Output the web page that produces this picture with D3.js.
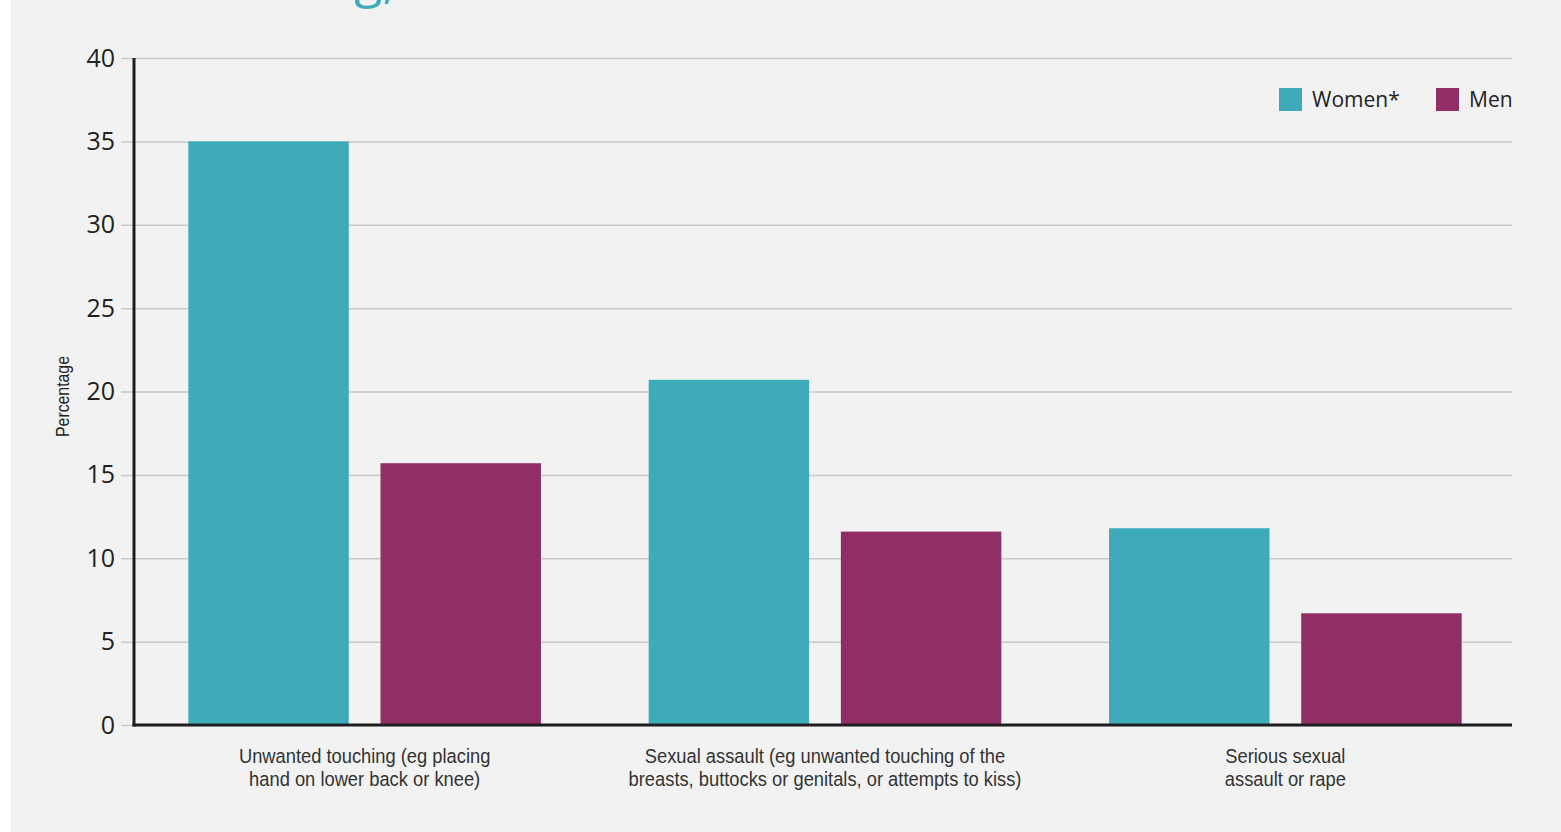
<!DOCTYPE html>
<html>
<head>
<meta charset="utf-8">
<script src="https://cdn.jsdelivr.net/npm/d3@7"></script>
<style>
  body { margin: 0; background: #fff; }
  svg { display: block; }
</style>
</head>
<body>
<div id="chart"></div>
<script>
// chart data
var categories = [
  ["Unwanted touching (eg placing", "hand on lower back or knee)"],
  ["Sexual assault (eg unwanted touching of the", "breasts, buttocks or genitals, or attempts to kiss)"],
  ["Serious sexual", "assault or rape"]
];
var seriesNames = ["Women*", "Men"];
var women = [35.0, 20.7, 11.8];
var men = [15.7, 11.6, 6.7];
var yTicks = [0, 5, 10, 15, 20, 25, 30, 35, 40];
var colors = ["#3eabbb", "#902e65"];

var W = 1561, H = 832;
var margin = { left: 134, right: 49, top: 58, bottom: 107 };

var svg = d3.select("#chart").append("svg")
  .attr("width", W)
  .attr("height", H);

// grey panel
svg.append("rect")
  .attr("x", 11).attr("y", 0)
  .attr("width", W - 11).attr("height", H)
  .attr("fill", "#f2f2f2");

// heading, only its descenders peek in at the top
svg.append("text")
  .attr("x", 396).attr("y", -3)
  .attr("text-anchor", "end")
  .attr("font-family", "'Open Sans', sans-serif")
  .attr("font-size", 52)
  .attr("fill", "#3eabbb")
  .text("Sexual harassment at work and in training,");

var y = d3.scaleLinear().domain([0, 40]).range([H - margin.bottom, margin.top]);
var x0 = d3.scaleBand()
  .domain(d3.range(categories.length))
  .range([margin.left, W - margin.right + 4])
  .paddingInner(0.234)
  .paddingOuter(0.118);
var x1 = d3.scaleBand()
  .domain(seriesNames)
  .range([0, x0.bandwidth()])
  .paddingInner(0.165);

// grid lines + ticks
var yAxis = d3.axisLeft(y)
  .tickValues(yTicks)
  .tickSize(-(W - margin.right - margin.left))
  .tickPadding(19)
  .tickFormat(d3.format("d"));

var gy = svg.append("g")
  .attr("transform", "translate(" + margin.left + ",0)")
  .call(yAxis);
gy.select(".domain").remove();
gy.selectAll(".tick line")
  .attr("x1", -13)
  .attr("stroke", "#c9c9c9")
  .attr("stroke-width", 1.5);
gy.selectAll(".tick text")
  .attr("font-family", "'Open Sans', sans-serif")
  .attr("font-size", 25)
  .attr("fill", "#222");

// bars
var rows = categories.map(function(c, i) {
  return { i: i, values: [
    { key: seriesNames[0], v: women[i] },
    { key: seriesNames[1], v: men[i] }
  ] };
});

var groups = svg.append("g").selectAll("g")
  .data(rows)
  .enter().append("g")
  .attr("transform", function(d) { return "translate(" + x0(d.i) + ",0)"; });

groups.selectAll("rect")
  .data(function(d) { return d.values; })
  .enter().append("rect")
  .attr("x", function(d) { return x1(d.key); })
  .attr("width", x1.bandwidth())
  .attr("y", function(d) { return y(d.v); })
  .attr("height", function(d) { return y(0) - y(d.v); })
  .attr("fill", function(d, j) { return colors[j]; });

// axes lines
svg.append("line")
  .attr("x1", margin.left).attr("x2", margin.left)
  .attr("y1", y(40)).attr("y2", y(0) + 1.5)
  .attr("stroke", "#1e1e1e").attr("stroke-width", 3);
svg.append("line")
  .attr("x1", margin.left - 1.5).attr("x2", W - margin.right)
  .attr("y1", y(0)).attr("y2", y(0))
  .attr("stroke", "#1e1e1e").attr("stroke-width", 3);

// category labels (narrowed a bit, the original uses a condensed face)
var squeeze = 0.94;
var lab = svg.append("g").selectAll("text")
  .data(categories)
  .enter().append("text")
  .attr("text-anchor", "middle")
  .attr("font-family", "'Liberation Sans', Arial, sans-serif")
  .attr("font-size", 19.5)
  .attr("fill", "#333")
  .attr("transform", function(d, i) {
    return "translate(" + (x0(i) + x0.bandwidth() / 2) + "," + (y(0) + 38) + ") scale(" + squeeze + ",1)";
  });
lab.selectAll("tspan")
  .data(function(d) { return d; })
  .enter().append("tspan")
  .attr("x", 0)
  .attr("dy", function(d, j) { return j === 0 ? 0 : 23; })
  .text(function(d) { return d; });

// y axis title
svg.append("text")
  .attr("transform", "translate(69," + ((y(0) + y(40)) / 2 + 5) + ") rotate(-90) scale(0.88,1)")
  .attr("text-anchor", "middle")
  .attr("font-family", "'Liberation Sans', Arial, sans-serif")
  .attr("font-size", 18)
  .attr("fill", "#222")
  .text("Percentage");

// legend
var legendX = [1279, 1436];
var leg = svg.append("g").selectAll("g")
  .data(seriesNames)
  .enter().append("g")
  .attr("transform", function(d, i) { return "translate(" + legendX[i] + ",88)"; });
leg.append("rect")
  .attr("width", 23).attr("height", 23)
  .attr("fill", function(d, i) { return colors[i]; });
leg.append("text")
  .attr("x", 33).attr("y", 19)
  .attr("font-family", "'Open Sans', sans-serif")
  .attr("font-size", 21)
  .attr("fill", "#222")
  .text(function(d) { return d; });
</script>
</body>
</html>
